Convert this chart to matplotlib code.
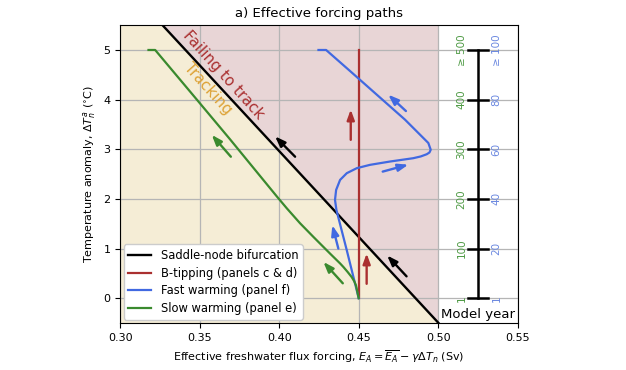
import numpy as np
import matplotlib.pyplot as plt

# saddle-node line (E_A, T)
sn_E = [0.5002, 0.3266]
sn_T = [-0.5, 5.5]

# paths
slow_E = [0.3178, 0.3220, 0.3482, 0.3691, 0.3985, 0.4048, 0.4131, 0.4215, 0.4257, 0.4320,
          0.4383, 0.4404, 0.4430, 0.4456, 0.4472, 0.4483, 0.4494, 0.4500]
slow_T = [5.0, 5.0, 4.0, 3.20, 2.05, 1.81, 1.51, 1.235, 1.10, 0.898,
          0.70, 0.628, 0.53, 0.425, 0.34, 0.257, 0.09, 0.0]

fast_E = [0.4247, 0.4295, 0.4446, 0.4791, 0.4875, 0.4938, 0.4953, 0.4945, 0.4928, 0.4890,
          0.4843, 0.4697, 0.4571, 0.4488, 0.4425, 0.4383, 0.4358, 0.4351, 0.4360, 0.4425, 0.4500]
fast_T = [5.0, 5.0, 4.575, 3.597, 3.328, 3.126, 2.99, 2.935, 2.90, 2.855,
          2.82, 2.753, 2.686, 2.619, 2.518, 2.383, 2.18, 1.98, 1.775, 0.966, 0.0]

btip_E = [0.45, 0.45]
btip_T = [0.0, 5.0]

# arrows: (tail_E, tail_T, head_E, head_T)
red_arrows = [(0.455, 0.29, 0.455, 0.90), (0.445, 3.19, 0.445, 3.80)]
black_arrows = [(0.4801, 0.44, 0.4679, 0.86), (0.4100, 2.85, 0.3974, 3.26)]
green_arrows = [(0.4400, 0.30, 0.4278, 0.73), (0.3696, 2.85, 0.3576, 3.29)]
blue_arrows = [(0.4372, 1.00, 0.4334, 1.47), (0.4651, 2.55, 0.4812, 2.69), (0.4797, 3.77, 0.4686, 4.10)]

year_ticks = [0, 1, 2, 3, 4, 5]
slow_years = ['1', '100', '200', '300', '400', '≥ 500']
fast_years = ['1', '20', '40', '60', '80', '≥ 100']

c_red = '#aa3030'
c_blue = '#4169e1'
c_green = '#3a8a2e'
c_gold = '#dda236'

fig = plt.figure(figsize=(6.26, 3.70), dpi=100)
ax = fig.add_axes([0.192, 0.127, 0.635, 0.805])

# shaded regions
Ty = np.array(sn_T)
ax.fill_betweenx(Ty, 0.30, np.minimum(sn_E, 0.50), color='#f5edd6', lw=0, zorder=0)
ax.fill_betweenx(Ty, np.minimum(sn_E, 0.50), 0.50, color='#e8d5d6', lw=0, zorder=0)

ax.plot(sn_E, sn_T, color='k', lw=1.7, label='Saddle-node bifurcation', zorder=3)
ax.plot(btip_E, btip_T, color=c_red, lw=1.6, label='B-tipping (panels c & d)', zorder=3)
ax.plot(fast_E, fast_T, color=c_blue, lw=1.6, label='Fast warming (panel f)', zorder=3)
ax.plot(slow_E, slow_T, color=c_green, lw=1.6, label='Slow warming (panel e)', zorder=3)

for arrows, col in [(red_arrows, c_red), (black_arrows, 'k'),
                    (green_arrows, c_green), (blue_arrows, c_blue)]:
    for x0, y0, x1, y1 in arrows:
        ax.annotate('', xy=(x1, y1), xytext=(x0, y0),
                    arrowprops=dict(arrowstyle='-|>,head_length=0.6,head_width=0.22',
                                    color=col, lw=1.7, mutation_scale=10,
                                    shrinkA=0, shrinkB=0), zorder=4)

ax.text(0.3648, 4.49, 'Failing to track', color=c_red, fontsize=11, rotation=-48,
        ha='center', va='center', rotation_mode='anchor')
ax.text(0.355, 4.21, 'Tracking', color=c_gold, fontsize=11, rotation=-48,
        ha='center', va='center', rotation_mode='anchor')

# model year scale
xs = 0.5252
ax.plot([xs, xs], [0, 5], color='k', lw=1.8, zorder=3)
for t, g, b in zip(year_ticks, slow_years, fast_years):
    ax.plot([xs - 0.0063, xs + 0.0063], [t, t], color='k', lw=1.8, zorder=3)
    ax.text(0.5147, t, g, color='#4e9a44', fontsize=7.5, rotation=90, ha='center', va='center')
    ax.text(0.5368, t, b, color='#6b88e0', fontsize=7.5, rotation=90, ha='center', va='center')
ax.text(0.5252, -0.32, 'Model year', fontsize=9.5, ha='center', va='center')

ax.set_xlim(0.30, 0.55)
ax.set_ylim(-0.5, 5.5)
ax.set_xticks([0.30, 0.35, 0.40, 0.45, 0.50, 0.55])
ax.set_xticklabels(['0.30', '0.35', '0.40', '0.45', '0.50', '0.55'])
ax.set_yticks([0, 1, 2, 3, 4, 5])
ax.tick_params(labelsize=8)
ax.grid(color='#b5b5b5', lw=0.9, zorder=1)
ax.set_axisbelow(True)

ax.set_xlabel(r'Effective freshwater flux forcing, $E_A = \overline{E_A} - \gamma\Delta T_n$ (Sv)', fontsize=8)
ax.set_ylabel(r'Temperature anomaly, $\Delta T^a_n$ ($^{\circ}$C)', fontsize=8)
ax.set_title('a) Effective forcing paths', fontsize=9.5)

ax.legend(loc='lower left', fontsize=8.3, framealpha=1, borderaxespad=0.3,
          handlelength=2.0, labelspacing=0.4)

fig.savefig('out.png', dpi=100)
